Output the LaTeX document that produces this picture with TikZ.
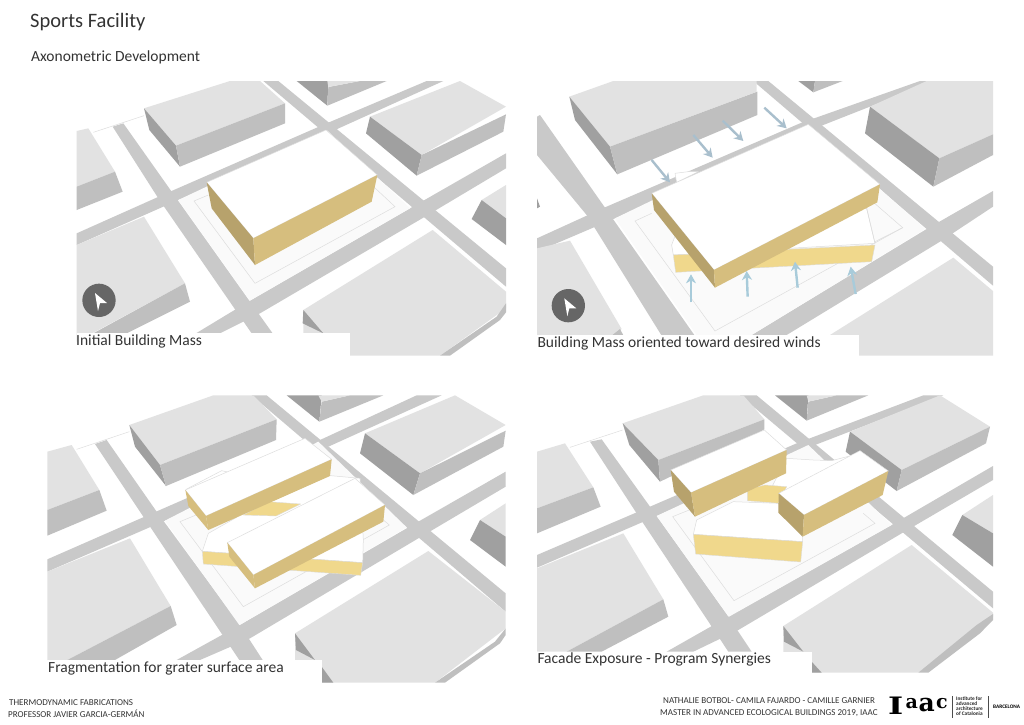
\documentclass[tikz,border=0pt]{standalone}
\usepackage{graphicx}
\usepackage{fontspec}
\setmainfont{Carlito}
\newfontfamily\logofont{DejaVu Serif}
\usetikzlibrary{arrows.meta}
\definecolor{roadc}{HTML}{C9C9C9}
\definecolor{topc}{HTML}{E2E2E2}
\definecolor{lightc}{HTML}{BFBFBF}
\definecolor{darkc}{HTML}{A0A0A0}
\definecolor{goldr}{HTML}{D6BE7E}
\definecolor{goldl}{HTML}{B7A26C}
\definecolor{yelc}{HTML}{F0D88C}
\definecolor{sitec}{HTML}{FAFAFA}
\definecolor{linec}{HTML}{DDDDDD}
\definecolor{textc}{HTML}{333333}
\definecolor{windup}{HTML}{A8CBDA}
\definecolor{winddn}{HTML}{A9BFCD}
\tikzset{
  road/.style={fill=roadc},
  topf/.style={fill=topc},
  lightf/.style={fill=lightc},
  darkf/.style={fill=darkc},
  site/.style={fill=sitec},
  thin grey/.style={draw=linec,line width=0.5pt},
  whitemass/.style={fill=white,draw=linec,line width=0.5pt,line join=round},
  massright/.style={fill=goldr},
  massleft/.style={fill=goldl},
  yel/.style={fill=yelc,draw=linec,line width=0.4pt,line join=round},
  caption/.style={anchor=base west,inner sep=0pt,font=\fontsize{15.5}{17}\selectfont,text=textc},
  foot/.style={anchor=base west,inner sep=0pt,font=\fontsize{9.05}{10}\selectfont,text=textc},
  logo/.style={anchor=base west,inner sep=0pt,text=black},
  up wind/.style={draw=windup,line width=2.4pt,-{Stealth[length=9pt,width=10pt]}},
  down wind/.style={draw=winddn,line width=2.4pt,-{Stealth[length=9pt,width=10pt]}},
}
\newcommand\pg[2]{\path[#1] plot coordinates {#2} -- cycle;}
\begin{document}
\begin{tikzpicture}[x=1pt,y=-1pt]
\useasboundingbox (0,0) rectangle (1024,724);
\fill[white] (0,0) rectangle (1024,724);
\node[anchor=base west,inner sep=0pt,font=\fontsize{20.5}{23}\selectfont,text=textc] (title) at (30,27) {Sports Facility};
\node[anchor=base west,inner sep=0pt,font=\fontsize{15.5}{17}\selectfont,text=textc] (subtitle) at (31,61) {Axonometric Development};

%%%%%%%%%% PANEL 1
\begin{scope}[x=0.33333pt,y=-0.33333pt,shift={(210,225)}]
\begin{scope}
\clip (20,18) rectangle (1308,842);
\pg{road}{(580,18) (625,18) (1308,580) (1308,635)}
\pg{road}{(128,155) (160,145) (305,350) (540,680) (608,775) (545,775) (265,370)}
\pg{road}{(20,475) (300,350) (770,145) (1070,18) (1120,18) (795,165) (325,375) (20,510)}
\pg{road}{(378,775) (540,677) (1055,380) (1308,235) (1308,280) (1060,428) (570,715) (450,775)}
\pg{site}{(325,375) (770,165) (1020,400) (540,677)}
\draw[thin grey] (372,378) -- (555,625) -- (975,395) -- (900,325);
\draw[thin grey] (372,378) -- (415,360);
\draw[thin grey] (70,172) -- (222,122);
\pg{topf}{(222,100) (480,18) (570,18) (645,85) (318,212)}
\pg{darkf}{(222,100) (318,212) (330,275) (238,165)}
\pg{lightf}{(318,212) (645,85) (645,145) (330,275)}
\pg{darkf}{(680,18) (775,18) (772,92)}
\pg{lightf}{(775,36) (870,18) (950,18) (772,92)}
\pg{topf}{(772,18) (870,18) (775,36)}
\pg{topf}{(900,125) (1170,18) (1308,95) (1055,240)}
\pg{darkf}{(900,125) (1055,240) (1040,302) (888,175)}
\pg{lightf}{(1055,240) (1308,118) (1300,170) (1040,302)}
\pg{topf}{(20,168) (55,160) (135,290) (20,335)}
\pg{lightf}{(20,335) (135,290) (158,350) (20,405)}
\pg{topf}{(1235,375) (1308,330) (1308,430)}
\pg{darkf}{(1235,375) (1308,430) (1308,510) (1205,432)}
\pg{topf}{(20,510) (222,425) (345,625) (20,800)}
\pg{lightf}{(345,625) (360,680) (170,775) (70,775)}
\pg{topf}{(700,705) (1088,465) (1308,650) (1308,700) (1110,842) (700,842)}
\pg{lightf}{(1308,685) (1280,725) (1110,842) (1140,842) (1290,735) (1308,712)}
\pg{darkf}{(700,705) (760,775) (698,745)}
\pg{whitemass}{(410,322) (768,165) (922,300) (550,490)}
\pg{massleft}{(410,322) (550,490) (555,570) (425,400)}
\pg{massright}{(550,490) (922,300) (905,380) (555,570)}
\fill[white] (20,775) rectangle (840,842);
\end{scope}
\fill[black!60] (87,676) circle (50);
\fill[white] (75,654) -- (111,684) -- (90,684) -- (84,708) -- cycle;
\node[caption] (cap1) at (18,812) {Initial Building Mass};
\end{scope}

%%%%%%%%%% PANEL 2
\begin{scope}[x=0.33333pt,y=-0.33333pt,shift={(1590,225)}]
\begin{scope}
\clip (21,18) rectangle (1389,842);
\pg{road}{(670,18) (715,18) (1389,575) (1389,632)}
\pg{road}{(21,125) (30,120) (225,398) (500,790) (400,790) (170,420) (21,240)}
\pg{road}{(21,490) (225,397) (810,145) (1170,18) (1215,18) (880,150) (255,430) (21,530)}
\pg{road}{(665,780) (1190,462) (1389,348) (1389,395) (1230,500) (770,780)}
\pg{site}{(255,430) (835,150) (1185,462) (665,780) (500,780)}
\draw[thin grey] (1005,360) -- (1118,458) -- (555,768) -- (315,438) -- (365,415);
\pg{topf}{(118,65) (250,18) (680,18) (680,50) (240,215)}
\pg{darkf}{(118,65) (240,215) (262,298) (135,135)}
\pg{lightf}{(240,215) (682,50) (682,120) (262,298)}
\pg{darkf}{(805,18) (855,18) (850,52)}
\pg{lightf}{(850,52) (855,18) (938,18)}
\pg{topf}{(1020,95) (1190,18) (1389,18) (1389,178) (1228,250)}
\pg{darkf}{(1020,95) (1228,250) (1210,335) (1005,175)}
\pg{lightf}{(1228,250) (1389,178) (1389,240) (1210,335)}
\pg{darkf}{(21,370) (30,395) (21,400)}
\pg{topf}{(21,520) (120,497) (275,762) (235,790) (21,790)}
\pg{lightf}{(235,790) (270,762) (285,790)}
\pg{topf}{(900,780) (1270,548) (1389,648) (1389,842) (880,842)}
\pg{whitemass}{(430,540) (425,510) (440,470) (1010,400) (1035,505)}
\pg{whitemass}{(435,295) (475,290) (505,290) (440,322)}
\draw[thin grey] (1010,400) -- (1035,505);
\draw[thin grey] (1035,500) -- (1118,458);
\pg{yel}{(430,540) (1035,510) (1025,560) (437,592)}
\pg{whitemass}{(365,355) (835,148) (1050,328) (552,585)}
\pg{massleft}{(365,355) (552,585) (555,638) (372,405)}
\pg{massright}{(552,585) (1050,328) (1042,382) (555,638)}
\fill[white] (21,780) rectangle (988,842);
\end{scope}
\draw[down wind] (365,255) -- (420,322);
\draw[down wind] (490,180) -- (548,248);
\draw[down wind] (578,137) -- (640,198);
\draw[down wind] (703,98) -- (770,160);
\draw[up wind] (483,682) -- (483,598);
\draw[up wind] (653,665) -- (650,588);
\draw[up wind] (803,638) -- (795,560);
\draw[up wind] (977,657) -- (962,575);
\fill[black!60] (115,692) circle (50);
\fill[white] (103,670) -- (139,700) -- (118,700) -- (112,724) -- cycle;
\node[caption] (cap2) at (22,818) {Building Mass oriented toward desired winds};
\end{scope}

%%%%%%%%%% PANEL 3
\begin{scope}[x=0.33333pt,y=-0.33333pt,shift={(120,1170)}]
\begin{scope}
\clip (22,16) rectangle (1397,878);
\pg{road}{(635,16) (680,16) (1397,610) (1397,665)}
\pg{road}{(165,162) (200,150) (350,365) (600,705) (668,810) (598,810) (310,380)}
\pg{road}{(22,508) (355,362) (840,150) (1130,16) (1205,16) (865,170) (375,392) (22,545)}
\pg{road}{(410,810) (600,705) (1100,415) (1397,245) (1397,290) (1135,445) (630,745) (480,810)}
\pg{site}{(375,392) (835,155) (1100,412) (598,705)}
\draw[thin grey] (1000,365) -- (1048,405) -- (610,650) -- (420,395) -- (480,370);
\draw[thin grey] (110,178) -- (268,125);
\pg{topf}{(268,105) (520,16) (640,16) (710,88) (360,225)}
\pg{darkf}{(268,105) (360,225) (378,288) (285,170)}
\pg{lightf}{(360,225) (710,88) (708,150) (378,288)}
\pg{darkf}{(740,16) (845,16) (838,95)}
\pg{lightf}{(845,35) (930,16) (1030,16) (838,95)}
\pg{topf}{(835,16) (930,16) (845,35)}
\pg{topf}{(975,130) (1245,16) (1397,105) (1140,250)}
\pg{darkf}{(975,130) (1140,250) (1120,315) (960,190)}
\pg{lightf}{(1140,250) (1397,122) (1390,170) (1120,315)}
\pg{topf}{(22,185) (95,165) (178,300) (22,360)}
\pg{lightf}{(22,360) (178,300) (200,362) (22,437)}
\pg{topf}{(1320,390) (1397,340) (1397,440)}
\pg{darkf}{(1320,390) (1397,440) (1397,530) (1290,450)}
\pg{topf}{(22,545) (270,445) (392,648) (82,810) (22,810)}
\pg{lightf}{(392,648) (410,705) (225,810) (82,810)}
\pg{topf}{(765,730) (1165,483) (1397,665) (1397,715) (1185,878) (765,878)}
\pg{lightf}{(1397,715) (1365,755) (1185,878) (1215,878) (1380,760) (1397,735)}
\pg{darkf}{(765,730) (825,810) (768,780)}
\pg{darkf}{(845,830) (880,878) (845,878)}
\pg{whitemass}{(440,297) (545,242) (590,252) (850,255) (960,265) (970,450) (968,518) (487,484) (505,430) (590,382)}
\pg{yel}{(487,484) (968,518) (962,556) (490,522)}
\pg{yel}{(610,375) (685,335) (782,342) (708,378)}
\pg{whitemass}{(436,300) (795,145) (875,208) (498,378)}
\pg{fill=goldr}{(436,300) (498,378) (505,420) (445,348)}
\pg{massright}{(498,378) (875,208) (870,258) (505,420)}
\pg{whitemass}{(562,458) (945,265) (1035,345) (640,555)}
\pg{fill=goldr}{(562,458) (640,555) (645,595) (568,500)}
\pg{massright}{(640,555) (1035,345) (1030,395) (645,595)}
\fill[white] (22,810) rectangle (845,878);
\end{scope}
\node[caption] (cap3) at (24,848) {Fragmentation for grater surface area};
\end{scope}

%%%%%%%%%% PANEL 4
\begin{scope}[x=0.33333pt,y=-0.33333pt,shift={(1590,1170)}]
\begin{scope}
\clip (21,16) rectangle (1389,848);
\pg{road}{(630,16) (680,16) (1389,605) (1389,655)}
\pg{road}{(180,155) (215,148) (360,350) (595,680) (665,785) (595,785) (320,370)}
\pg{road}{(21,495) (360,350) (800,160) (1180,16) (1240,16) (855,165) (380,378) (21,533)}
\pg{road}{(410,785) (595,680) (1085,405) (1389,228) (1389,270) (1115,430) (625,720) (490,785)}
\pg{site}{(380,378) (835,165) (1085,405) (597,680)}
\draw[thin grey] (1000,370) -- (1035,400) -- (612,632) -- (428,380) -- (490,355);
\draw[thin grey] (120,172) -- (278,120);
\pg{topf}{(278,100) (520,16) (640,16) (703,88) (385,210)}
\pg{darkf}{(278,100) (385,210) (390,275) (298,165)}
\pg{lightf}{(385,210) (703,88) (703,118) (640,155) (390,275)}
\pg{darkf}{(735,16) (835,16) (830,92)}
\pg{lightf}{(835,35) (920,16) (1015,16) (830,92)}
\pg{topf}{(830,16) (920,16) (835,35)}
\pg{topf}{(960,125) (1230,16) (1380,110) (1115,240)}
\pg{darkf}{(960,125) (1115,240) (1100,303) (947,185)}
\pg{lightf}{(1115,240) (1380,110) (1368,160) (1100,303)}
\pg{topf}{(21,185) (105,160) (190,292) (21,355)}
\pg{lightf}{(21,355) (190,292) (212,350) (21,430)}
\pg{topf}{(1297,375) (1389,315) (1389,430)}
\pg{darkf}{(1297,375) (1389,430) (1389,530) (1267,435)}
\pg{topf}{(21,535) (280,430) (400,628) (110,785) (21,785)}
\pg{lightf}{(400,628) (415,680) (215,785) (110,785)}
\pg{topf}{(760,708) (1145,465) (1389,668) (1389,680) (1165,848) (760,848)}
\pg{lightf}{(1389,672) (1340,705) (1165,848) (1195,848) (1350,730) (1389,690)}
\pg{darkf}{(760,708) (820,785) (762,755)}
\pg{darkf}{(845,815) (875,848) (845,848)}
\pg{whitemass}{(770,205) (850,210) (905,212) (990,190) (800,300) (745,340) (700,340)}
\pg{yel}{(652,298) (705,285) (770,290) (745,340) (652,332)}
\pg{whitemass}{(490,433) (500,390) (610,335) (745,340) (818,440) (818,455)}
\pg{yel}{(490,433) (818,455) (812,516) (497,492)}
\pg{whitemass}{(422,240) (703,120) (770,180) (483,308)}
\pg{massleft}{(422,240) (483,308) (495,380) (432,305)}
\pg{massright}{(483,308) (770,180) (768,250) (495,380)}
\pg{whitemass}{(746,310) (990,182) (1075,243) (822,375)}
\pg{massleft}{(746,310) (822,375) (818,440) (745,368)}
\pg{massright}{(822,375) (1075,243) (1058,315) (818,440)}
\fill[white] (21,785) rectangle (845,848);
\end{scope}
\node[caption] (cap4) at (22,820) {Facade Exposure - Program Synergies};
\end{scope}

%%%%%%%%%% FOOTER
\node[foot] (f1) at (9,705) {THERMODYNAMIC FABRICATIONS};
\node[foot] (f2) at (8,717) {PROFESSOR JAVIER GARCIA-GERMÁN};
\node[foot] (f3) at (663,703) {NATHALIE BOTBOL- CAMILA FAJARDO - CAMILLE GARNIER};
\node[foot] (f4) at (660,715) {MASTER IN ADVANCED ECOLOGICAL BUILDINGS 2019, IAAC};
\node[logo,font={\logofont\bfseries\fontsize{24}{24}\selectfont}] (logoI) at (888,714) {\scalebox{1.35}[1]{I}};
\node[logo,font={\logofont\bfseries\fontsize{19}{19}\selectfont}] (logoa) at (905.5,708) {a};
\node[logo,font={\logofont\bfseries\fontsize{25}{25}\selectfont}] (logob) at (918.5,711) {a};
\node[logo,font={\logofont\bfseries\fontsize{19}{19}\selectfont}] (logoc) at (936,708) {c};
\draw[black!70,line width=0.5pt] (952,696) -- (952,718);
\draw[black!70,line width=0.5pt] (988,696) -- (988,718);
\node[anchor=north west,inner sep=0pt,align=left,font=\fontsize{5.3}{5}\selectfont\bfseries,text=black!85] (logot) at (956,696.5) {Institute for\\advanced\\architecture\\of Catalonia};
\node[logo,font=\fontsize{5.3}{6}\selectfont\bfseries] (logoe) at (993,708.5) {BARCELONA};
\end{tikzpicture}
\end{document}
